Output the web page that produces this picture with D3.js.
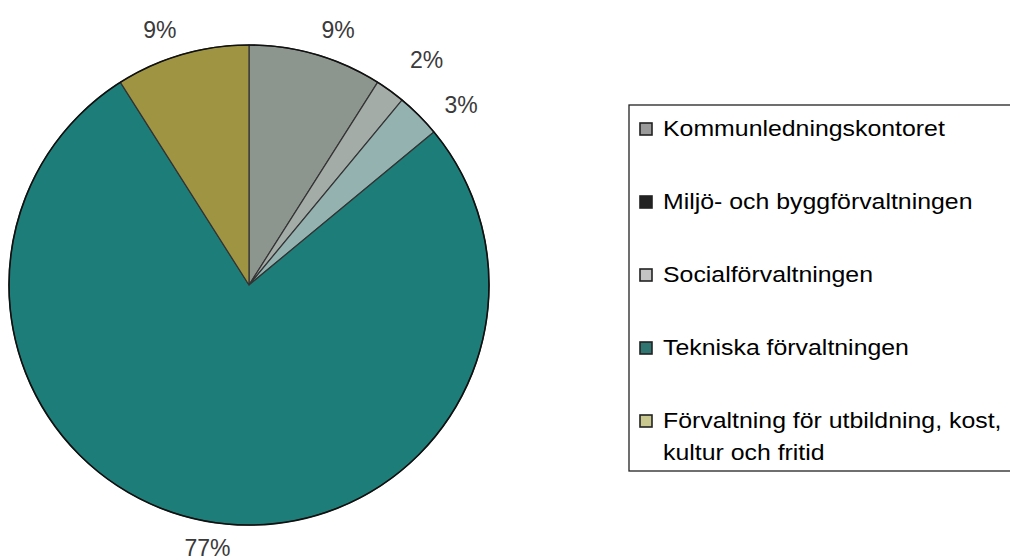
<!DOCTYPE html>
<html><head><meta charset="utf-8">
<script src="https://cdn.jsdelivr.net/npm/d3@7"></script>
<style>html,body{margin:0;padding:0;background:#fff;}svg{display:block;}</style>
</head><body>
<svg id="chart" width="1010" height="560"></svg>
<script>
const categories = ["Kommunledningskontoret", "Miljö- och byggförvaltningen", "Socialförvaltningen", "Tekniska förvaltningen", "Förvaltning för utbildning, kost, kultur och fritid"];
const legendLines = [["Kommunledningskontoret"], ["Miljö- och byggförvaltningen"], ["Socialförvaltningen"], ["Tekniska förvaltningen"], ["Förvaltning för utbildning, kost,", "kultur och fritid"]];
const values = [9, 2, 3, 77, 9];
const labels = ["9%", "2%", "3%", "77%", "9%"];
const sliceColors = ["#8c968f", "#a4aca8", "#94b2b0", "#1d7e79", "#9f9442"];
const legendColors = ["#9a9a9a", "#222222", "#c4c4c4", "#2f7572", "#c9c98f"];

const svg = d3.select("#chart");
const cx = 249, cy = 285, R = 240;
const g = svg.append("g").attr("transform", `translate(${cx},${cy})`);
const pie = d3.pie().sort(null).value(d => d);
const arcs = pie(values);
const arc = d3.arc().innerRadius(0).outerRadius(R);

g.selectAll("path.slice").data(arcs).enter().append("path")
  .attr("class", "slice")
  .attr("d", arc)
  .attr("fill", (d, i) => sliceColors[i])
  .attr("stroke", "#333")
  .attr("stroke-width", 1.2)
  .attr("stroke-linejoin", "round");
g.append("circle").attr("r", R).attr("fill", "none").attr("stroke", "#111").attr("stroke-width", 1.6);

const labelR = 266;
g.selectAll("text.pct").data(arcs).enter().append("text")
  .attr("class", "pct")
  .attr("x", d => { const a = (d.startAngle + d.endAngle) / 2; const s = Math.sin(a); return labelR * s + (Math.abs(s) > 0.2 ? (15 + 22 * Math.max(0, Math.abs(s) - 0.3)) * Math.sign(s) : 0); })
  .attr("y", d => { const a = (d.startAngle + d.endAngle) / 2; const s = Math.sin(a); return -labelR * Math.cos(a) + (s > 0.65 ? 8 : (s > 0.45 ? -10 : 0)); })
  .attr("dy", "0.36em")
  .attr("text-anchor", "middle")
  .attr("font-family", "Liberation Sans, Arial, sans-serif")
  .attr("font-size", 23)
  .attr("fill", "#3a3a3a")
  .text((d, i) => labels[i]);

// Legend
const lx = 629, ly = 105, lh = 366;
svg.append("rect").attr("x", lx).attr("y", ly).attr("width", 420).attr("height", lh)
  .attr("fill", "none").attr("stroke", "#222").attr("stroke-width", 1.3);
const leg = svg.append("g");
const rowY = d3.scaleLinear().domain([0, 4]).range([136, 428]);
categories.forEach((c, i) => {
  const y = rowY(i);
  leg.append("rect").attr("x", 640).attr("y", y - 13).attr("width", 12).attr("height", 12)
    .attr("fill", legendColors[i]).attr("stroke", "#222").attr("stroke-width", 1.6);
  const t = leg.append("text").attr("font-family", "Liberation Sans, Arial, sans-serif")
    .attr("font-size", 22).attr("fill", "#000")
    .attr("transform", `translate(663,${y}) scale(1.13,1)`);
  legendLines[i].forEach((line, j) => {
    t.append("tspan").attr("x", 0).attr("y", j * 32).text(line);
  });
});
</script>
</body></html>
